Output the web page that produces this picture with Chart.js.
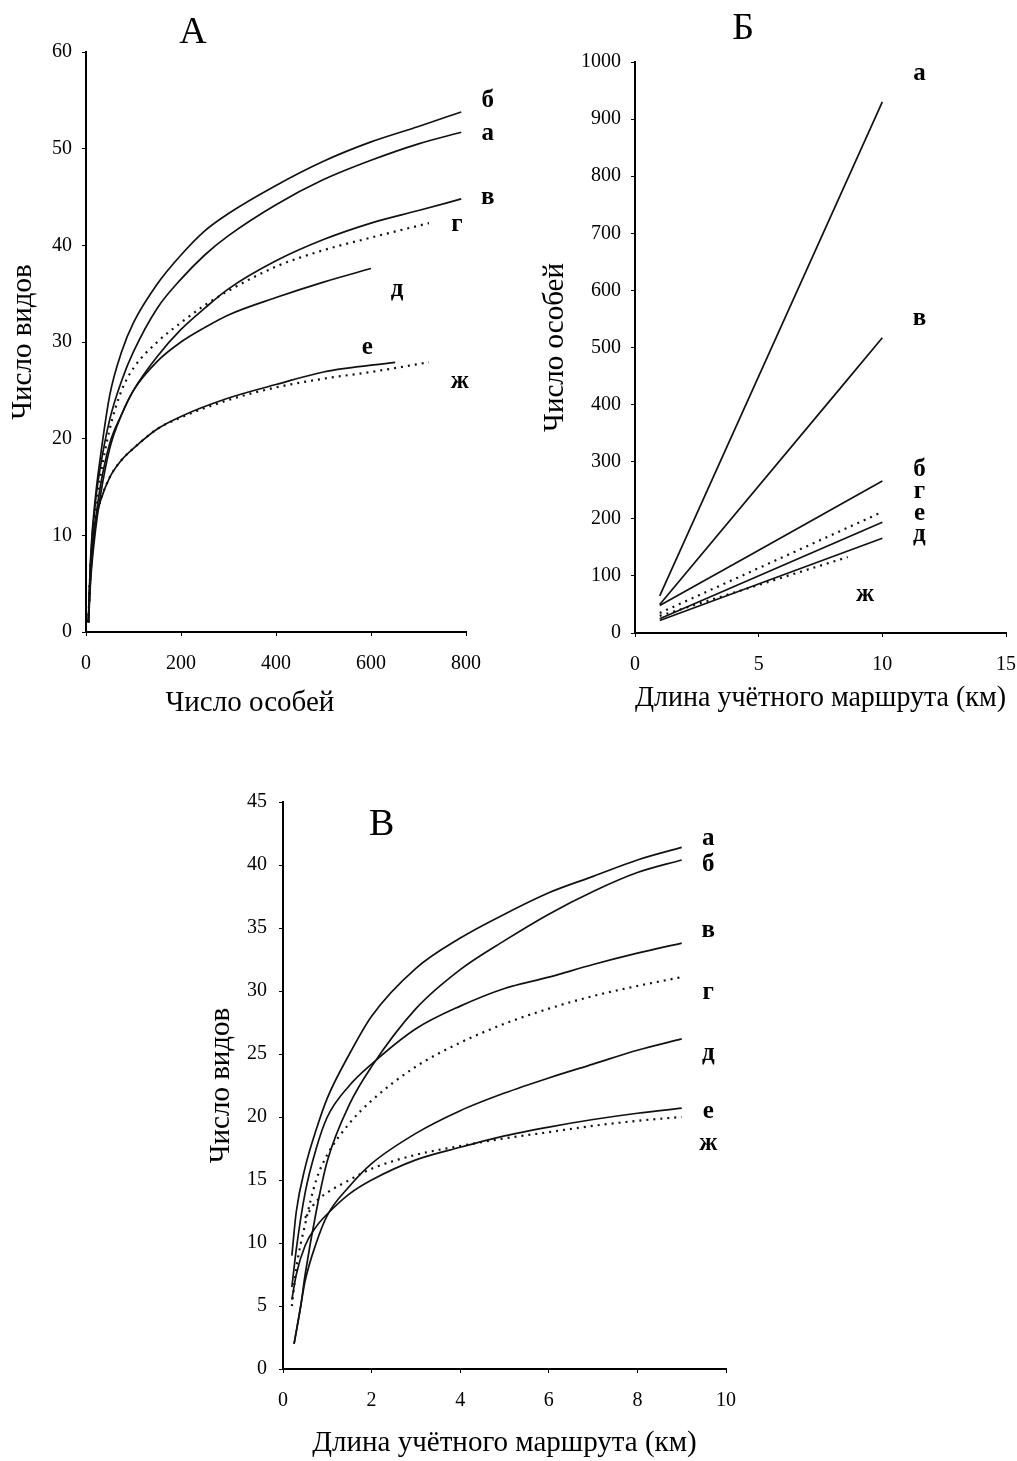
<!DOCTYPE html>
<html>
<head>
<meta charset="utf-8">
<script src="https://cdn.jsdelivr.net/npm/chart.js@4.4.1/dist/chart.umd.min.js"></script>
<style>
    html, body { margin: 0; padding: 0; background: #fff; }
    #page { position: relative; width: 1017px; height: 1461px; overflow: hidden; background: #fff; }
    #page canvas { position: absolute; }
</style>
</head>
<body>
<div id="page">
    <canvas id="chartA" width="520" height="720" style="left:0;top:0"></canvas>
    <canvas id="chartB" width="520" height="720" style="left:520px;top:0"></canvas>
    <canvas id="chartC" width="760" height="741" style="left:160px;top:720px"></canvas>
</div>
<script>
// Series names (same letters in all three panels); г and ж are dotted
const seriesNames = ['а', 'б', 'в', 'г', 'д', 'е', 'ж'];
const dottedSeries = ['г', 'ж'];

// ---- Panel А: число видов vs число особей ----
const aX_a = [5, 10, 20, 30, 50, 75, 100, 150, 200, 250, 300, 400, 500, 600, 700, 790];
const aY_a = [1, 7.5, 13.5, 17, 22, 26, 29, 33.5, 36.5, 39, 41, 44.2, 46.8, 48.8, 50.5, 51.7];
const aX_b = [5, 10, 20, 30, 50, 75, 100, 150, 200, 250, 300, 400, 500, 600, 700, 790];
const aY_b = [1, 8, 14, 18, 24.5, 29, 32, 36, 39, 41.5, 43.3, 46.2, 48.7, 50.7, 52.3, 53.8];
const aX_v = [5, 10, 20, 30, 50, 75, 100, 150, 200, 250, 300, 400, 500, 600, 700, 790];
const aY_v = [1, 6, 11.5, 15, 19.5, 22.5, 25, 28.5, 31.3, 33.5, 35.5, 38.4, 40.6, 42.3, 43.6, 44.8];
const aX_g = [5, 10, 20, 30, 50, 75, 100, 150, 200, 250, 300, 400, 500, 600, 722];
const aY_g = [1, 7, 12.5, 16, 21, 25, 27.3, 30, 32, 33.8, 35.3, 37.8, 39.5, 40.8, 42.3];
const aX_d = [5, 10, 20, 30, 50, 75, 100, 150, 200, 250, 300, 400, 500, 600];
const aY_d = [1, 5.5, 10.5, 14, 19, 22.5, 25, 28, 30, 31.5, 32.8, 34.6, 36.2, 37.6];
const aX_e = [5, 10, 15, 20, 30, 50, 75, 100, 150, 200, 300, 400, 500, 651];
const aY_e = [1, 7, 10, 11.5, 13.5, 16, 17.8, 19, 21, 22.3, 24.2, 25.6, 26.9, 27.9];
const aX_zh = [5, 10, 15, 20, 30, 50, 75, 100, 150, 200, 300, 400, 500, 600, 722];
const aY_zh = [1, 7, 10, 11.5, 13.5, 16, 17.8, 19, 21, 22.2, 24, 25.3, 26.2, 26.9, 27.9];

// ---- Panel Б: число особей vs длина маршрута ----
const bX_a = [1, 10];   const bY_a = [65, 930];
const bX_b = [1, 10];   const bY_b = [48, 266];
const bX_v = [1, 10];   const bY_v = [50, 517];
const bX_g = [1, 10];   const bY_g = [35, 212];
const bX_d = [1, 10];   const bY_d = [22, 166];
const bX_e = [1, 10];   const bY_e = [25, 194];
const bX_zh = [1, 8.6]; const bY_zh = [30, 133];

// ---- Panel В: число видов vs длина маршрута ----
const cX_a = [0.2, 0.3, 0.5, 0.75, 1, 1.5, 2, 3, 4, 5, 6, 7, 8, 9];
const cY_a = [9, 12.5, 16, 19, 21.5, 25, 28, 31.8, 34.2, 36.1, 37.8, 39.1, 40.4, 41.4];
const cX_b = [0.25, 0.4, 0.5, 0.75, 1, 1.5, 2, 3, 4, 5, 6, 7, 8, 9];
const cY_b = [2, 5, 7.5, 12.5, 16.5, 21, 24, 28.6, 31.7, 34, 36.1, 37.9, 39.4, 40.4];
const cX_v = [0.2, 0.3, 0.5, 0.75, 1, 1.5, 2, 3, 4, 5, 6, 7, 8, 9];
const cY_v = [6.5, 9.5, 14, 17.5, 20, 22.5, 24.2, 27, 28.8, 30.2, 31.1, 32.1, 33, 33.8];
const cX_g = [0.2, 0.3, 0.5, 0.75, 1, 1.5, 2, 3, 4, 5, 6, 7, 8, 9];
const cY_g = [5, 8, 11.5, 15, 17, 19.5, 21.3, 24, 25.9, 27.4, 28.6, 29.6, 30.4, 31.1];
const cX_d = [0.25, 0.4, 0.5, 0.75, 1, 1.5, 2, 3, 4, 5, 6, 7, 8, 9];
const cY_d = [2, 5, 7, 10, 12.2, 14.5, 16.3, 18.7, 20.5, 21.9, 23.1, 24.2, 25.3, 26.2];
const cX_e = [0.2, 0.3, 0.5, 0.75, 1, 1.5, 2, 3, 4, 5, 6, 7, 8, 9];
const cY_e = [5.5, 7.5, 9.8, 11.3, 12.3, 13.9, 15, 16.6, 17.6, 18.5, 19.2, 19.8, 20.3, 20.7];
const cX_zh = [0.5, 0.75, 1, 1.5, 2, 3, 4, 5, 6, 7, 8, 9];
const cY_zh = [12, 13.3, 14, 15, 15.9, 17, 17.7, 18.3, 18.8, 19.3, 19.7, 20];

// Tick values per axis
const aXTicks = [0, 200, 400, 600, 800];
const aYTicks = [0, 10, 20, 30, 40, 50, 60];
const bXTicks = [0, 5, 10, 15];
const bYTicks = [0, 100, 200, 300, 400, 500, 600, 700, 800, 900, 1000];
const cXTicks = [0, 2, 4, 6, 8, 10];
const cYTicks = [0, 5, 10, 15, 20, 25, 30, 35, 40, 45];

const serif = '"Liberation Serif", "Times New Roman", "DejaVu Serif", serif';
const tickFont = { family: serif, size: 20 };
const titleFont = { family: serif, size: 29 };

// Draws panel letters, curve labels and free titles, anchored to the chart's own scales
const textLabels = {
    id: 'textLabels',
    afterDraw(chart, args, opts) {
        const { ctx, scales } = chart;
        ctx.save();
        ctx.fillStyle = '#000';
        ctx.textAlign = 'center';
        ctx.textBaseline = 'middle';
        (opts.items || []).forEach(item => {
            ctx.font = item.font;
            ctx.fillText(item.text, scales.x.getPixelForValue(item.x), scales.y.getPixelForValue(item.y));
        });
        ctx.restore();
    }
};

function pairs(xs, ys) {
    return xs.map((x, i) => ({ x: x, y: ys[i] }));
}

function buildDatasets(xsList, ysList) {
    return seriesNames.map((name, i) => ({
        label: name,
        data: pairs(xsList[i], ysList[i]),
        borderColor: '#111',
        borderWidth: dottedSeries.includes(name) ? 2.2 : 1.7,
        borderDash: dottedSeries.includes(name) ? [2, 5] : [],
        pointRadius: 0,
        fill: false,
        cubicInterpolationMode: 'monotone'
    }));
}

function axis(ticksList, title, opts) {
    return {
        type: 'linear',
        min: ticksList[0],
        max: ticksList[ticksList.length - 1],
        border: { display: true, color: '#000', width: 2 },
        grid: { display: true, drawOnChartArea: false, drawTicks: true, tickLength: 4, color: '#000', lineWidth: 1 },
        ticks: {
            color: '#000', font: tickFont, padding: opts.tickPad, autoSkip: false, maxRotation: 0,
            callback: v => v
        },
        afterBuildTicks: scale => { scale.ticks = ticksList.map(v => ({ value: v })); },
        title: { display: !!title, text: title, color: '#000', font: titleFont, padding: opts.titlePad },
        afterFit: scale => {
            if (opts.width) scale.width = opts.width;
            if (opts.height) scale.height = opts.height;
        }
    };
}

function makePanel(id, datasets, xAxis, yAxis, padding, items) {
    return new Chart(document.getElementById(id), {
        type: 'line',
        data: { datasets: datasets },
        options: {
            responsive: false,
            animation: false,
            devicePixelRatio: 1,
            layout: { padding: padding },
            plugins: {
                legend: { display: false },
                tooltip: { enabled: false },
                textLabels: { items: items }
            },
            scales: { x: xAxis, y: yAxis }
        },
        plugins: [textLabels]
    });
}

const letterFont = '38px ' + serif;
const labelFont = 'bold 25px ' + serif;
const freeTitleFont = '29px ' + serif;

// Panel А (its x title sits left of the axis centre, so it is drawn as a label)
makePanel('chartA',
    buildDatasets([aX_a, aX_b, aX_v, aX_g, aX_d, aX_e, aX_zh], [aY_a, aY_b, aY_v, aY_g, aY_d, aY_e, aY_zh]),
    axis(aXTicks, '', { tickPad: 16, titlePad: { top: 4, bottom: 4 }, height: 88 }),
    axis(aYTicks, 'Число видов', { tickPad: 10, titlePad: { top: 6, bottom: 4 }, width: 86 }),
    { top: 52, right: 54, left: 0, bottom: 0 },
    [
        { text: 'А', x: 225, y: 62, font: letterFont },
        { text: 'Число особей', x: 345, y: -7.4, font: freeTitleFont },
        { text: 'б', x: 846, y: 55.0, font: labelFont },
        { text: 'а', x: 846, y: 51.6, font: labelFont },
        { text: 'в', x: 846, y: 44.9, font: labelFont },
        { text: 'г', x: 781, y: 42.1, font: labelFont },
        { text: 'д', x: 655, y: 35.4, font: labelFont },
        { text: 'е', x: 592, y: 29.4, font: labelFont },
        { text: 'ж', x: 787, y: 25.9, font: labelFont }
    ]);

// Panel Б
makePanel('chartB',
    buildDatasets([bX_a, bX_b, bX_v, bX_g, bX_d, bX_e, bX_zh], [bY_a, bY_b, bY_v, bY_g, bY_d, bY_e, bY_zh]),
    axis(bXTicks, 'Длина учётного маршрута (км)', { tickPad: 16, titlePad: { top: 4, bottom: 4 }, height: 87 }),
    axis(bYTicks, 'Число особей', { tickPad: 10, titlePad: { top: 18, bottom: 4 }, width: 115 }),
    { top: 62, right: 34, left: 0, bottom: 0 },
    [
        { text: 'Б', x: 4.37, y: 1058, font: letterFont },
        { text: 'а', x: 11.5, y: 979, font: labelFont },
        { text: 'в', x: 11.5, y: 550, font: labelFont },
        { text: 'б', x: 11.5, y: 287, font: labelFont },
        { text: 'г', x: 11.5, y: 247, font: labelFont },
        { text: 'е', x: 11.5, y: 210, font: labelFont },
        { text: 'д', x: 11.5, y: 173, font: labelFont },
        { text: 'ж', x: 9.3, y: 68, font: labelFont }
    ]);

// Panel В
makePanel('chartC',
    buildDatasets([cX_a, cX_b, cX_v, cX_g, cX_d, cX_e, cX_zh], [cY_a, cY_b, cY_v, cY_g, cY_d, cY_e, cY_zh]),
    axis(cXTicks, 'Длина учётного маршрута (км)', { tickPad: 16, titlePad: { top: 4, bottom: 0 }, height: 92 }),
    axis(cYTicks, 'Число видов', { tickPad: 12, titlePad: { top: 44, bottom: 4 }, width: 123 }),
    { top: 82, right: 194, left: 0, bottom: 0 },
    [
        { text: 'В', x: 2.23, y: 43.2, font: letterFont },
        { text: 'а', x: 9.6, y: 42.1, font: labelFont },
        { text: 'б', x: 9.6, y: 40.0, font: labelFont },
        { text: 'в', x: 9.6, y: 34.8, font: labelFont },
        { text: 'г', x: 9.6, y: 29.9, font: labelFont },
        { text: 'д', x: 9.6, y: 25.0, font: labelFont },
        { text: 'е', x: 9.6, y: 20.4, font: labelFont },
        { text: 'ж', x: 9.6, y: 17.9, font: labelFont }
    ]);
</script>
</body>
</html>
